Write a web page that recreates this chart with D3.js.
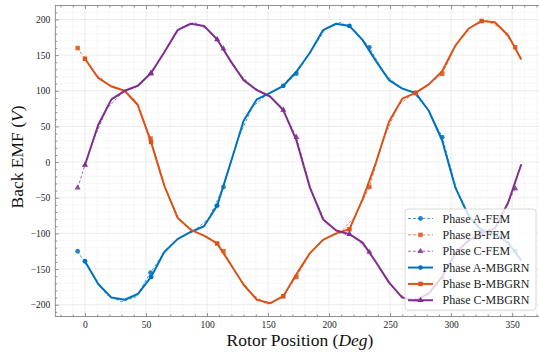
<!DOCTYPE html>
<html>
<head>
<meta charset="utf-8">
<script src="https://cdn.jsdelivr.net/npm/d3@7"></script>
<style>
  html, body { margin: 0; padding: 0; background: #fff; }
  svg { display: block; }
  text { font-family: "Liberation Serif", "DejaVu Serif", serif; }
</style>
</head>
<body>
<svg id="chart" width="539" height="353"></svg>
<script>
// Rotor positions (deg) of the two data sets
const mbgrnAngle = [0, 10.83, 21.67, 32.5, 43.33, 54.17, 65, 75.83, 86.67, 97.5, 108.33, 119.17,
  130, 140.83, 151.67, 162.5, 173.33, 184.17, 195, 205.83, 216.67, 227.5, 238.33, 249.17,
  260, 270.83, 281.67, 292.5, 303.33, 314.17, 325, 335.83, 346.67, 357.5];
const femAngle = [-6, 5.95, 17.9, 29.85, 41.8, 53.75, 65.7, 77.65, 89.6, 101.55, 113.5, 125.45,
  137.4, 149.35, 161.3, 173.25, 185.2, 197.15, 209.1, 221.05, 233, 244.95, 256.9, 268.85,
  280.8, 292.75, 304.7, 316.65, 328.6, 340.55, 352.5];

// Back EMF (V), MBGRN model
const phaseA_MBGRN = [-139, -171, -190, -193, -185, -161, -126, -108, -98, -90, -61, -2,
  58, 88, 97, 107, 127, 153, 185, 194, 191, 171, 142, 115, 103, 97, 72, 31, -35, -75,
  -96, -101, -113, -138];
const phaseB_MBGRN = [145, 118, 106, 100, 80, 28, -33, -78, -95, -103, -114, -143,
  -172, -193, -198, -188, -157, -128, -109, -100, -94, -52, -1, 57, 89, 97, 109, 127,
  163, 187, 198, 196, 178, 144];
const phaseC_MBGRN = [-4, 52, 88, 100, 107, 125, 154, 185, 194, 191, 172, 142,
  115, 101, 92, 73, 30, -35, -80, -96, -101, -113, -140, -169, -190, -194, -184, -161,
  -128, -110, -100, -93, -57, -3];

// Back EMF (V), FEM reference
const phaseA_FEM = [-125, -157, -186, -196, -189, -155, -124, -106, -96, -79, -35, 33,
  78, 95, 105, 124, 156, 187, 196, 185, 161, 125, 106, 98, 74, 35, -40, -80, -98, -106, -125];
const phaseB_FEM = [160, 129, 110, 102, 86, 33, -36, -82, -97, -106, -125, -160,
  -186, -199, -190, -161, -126, -107, -99, -77, -35, 34, 80, 96, 108, 124, 166, 190, 199, 188, 161];
const phaseC_FEM = [-36, 27, 75, 96, 106, 124, 156, 188, 196, 185, 159, 126,
  105, 95, 76, 35, -39, -85, -99, -105, -126, -158, -185, -196, -187, -162, -126, -108, -98, -77, -37];

const xTicks = [0, 50, 100, 150, 200, 250, 300, 350];
const yTicks = [-200, -150, -100, -50, 0, 50, 100, 150, 200];
const legendLabels = ["Phase A-FEM", "Phase B-FEM", "Phase C-FEM",
  "Phase A-MBGRN", "Phase B-MBGRN", "Phase C-MBGRN"];

const colors = { A: "#0072BD", B: "#D95319", C: "#7E2F8E" };

const svg = d3.select("#chart");
const plotL = 55.3, plotR = 546.7, plotT = 5.5, plotB = 316.5;
const x = d3.scaleLinear().domain([-24.3, 378.3]).range([plotL, plotR]);
const y = d3.scaleLinear().domain([-216.5, 219.6]).range([plotB, plotT]);

svg.append("defs").append("clipPath").attr("id", "plotClip")
  .append("rect").attr("x", plotL).attr("y", plotT)
  .attr("width", plotR - plotL).attr("height", plotB - plotT);

// grid: minor every 10, major at labelled ticks
const xMinor = d3.range(-20, 380, 10).filter(v => v % 50 !== 0);
const yMinor = d3.range(-210, 220, 10).filter(v => v % 50 !== 0);
const grid = svg.append("g");
grid.selectAll(".gxm").data(xMinor).join("line")
  .attr("x1", d => x(d)).attr("x2", d => x(d)).attr("y1", plotT).attr("y2", plotB)
  .attr("stroke", "#f1f1f1").attr("stroke-width", 0.6);
grid.selectAll(".gym").data(yMinor).join("line")
  .attr("y1", d => y(d)).attr("y2", d => y(d)).attr("x1", plotL).attr("x2", plotR)
  .attr("stroke", "#f1f1f1").attr("stroke-width", 0.6);
grid.selectAll(".gx").data(xTicks).join("line")
  .attr("x1", d => x(d)).attr("x2", d => x(d)).attr("y1", plotT).attr("y2", plotB)
  .attr("stroke", "#e4e4e4").attr("stroke-width", 0.7);
grid.selectAll(".gy").data(yTicks).join("line")
  .attr("y1", d => y(d)).attr("y2", d => y(d)).attr("x1", plotL).attr("x2", plotR)
  .attr("stroke", "#e4e4e4").attr("stroke-width", 0.7);

// axes with inward ticks on all four sides
const tickColor = "#666";
function styleAxis(g) {
  g.select(".domain").remove();
  g.selectAll(".tick line").attr("stroke", tickColor).attr("stroke-width", 0.7);
  g.selectAll(".tick text").attr("fill", "#222").style("font-size", "9.5px")
    .style("font-family", "'Liberation Serif', serif");
}
const fmt = d => (d < 0 ? "\u2212" + Math.abs(d) : String(d));

svg.append("g").attr("transform", `translate(0,${plotB})`)
  .call(d3.axisBottom(x).tickValues(xTicks).tickSize(-3.5).tickPadding(5).tickFormat(fmt)).call(styleAxis);
svg.append("g").attr("transform", `translate(0,${plotB})`)
  .call(d3.axisBottom(x).tickValues(xMinor).tickSize(-2).tickFormat("")).call(styleAxis);
svg.append("g").attr("transform", `translate(0,${plotT})`)
  .call(d3.axisTop(x).tickValues(xTicks).tickSize(-3.5).tickFormat("")).call(styleAxis);
svg.append("g").attr("transform", `translate(0,${plotT})`)
  .call(d3.axisTop(x).tickValues(xMinor).tickSize(-2).tickFormat("")).call(styleAxis);
svg.append("g").attr("transform", `translate(${plotL},0)`)
  .call(d3.axisLeft(y).tickValues(yTicks).tickSize(-3.5).tickPadding(5).tickFormat(fmt)).call(styleAxis);
svg.append("g").attr("transform", `translate(${plotL},0)`)
  .call(d3.axisLeft(y).tickValues(yMinor).tickSize(-2).tickFormat("")).call(styleAxis);
svg.append("g").attr("transform", `translate(${plotR},0)`)
  .call(d3.axisRight(y).tickValues(yTicks).tickSize(-3.5).tickFormat("")).call(styleAxis);

// frame
svg.append("rect").attr("x", plotL).attr("y", plotT)
  .attr("width", plotR - plotL).attr("height", plotB - plotT)
  .attr("fill", "none").attr("stroke", "#777").attr("stroke-width", 0.8);

// marker shapes
const markerPath = {
  circle: d3.symbol(d3.symbolCircle, 18)(),
  square: d3.symbol(d3.symbolSquare, 20)(),
  triangle: d3.symbol(d3.symbolTriangle, 16)()
};

const series = [
  { key: "A", kind: "FEM", xs: femAngle, ys: phaseA_FEM, marker: "circle" },
  { key: "B", kind: "FEM", xs: femAngle, ys: phaseB_FEM, marker: "square" },
  { key: "C", kind: "FEM", xs: femAngle, ys: phaseC_FEM, marker: "triangle" },
  { key: "A", kind: "MBGRN", xs: mbgrnAngle, ys: phaseA_MBGRN, marker: "circle" },
  { key: "B", kind: "MBGRN", xs: mbgrnAngle, ys: phaseB_MBGRN, marker: "square" },
  { key: "C", kind: "MBGRN", xs: mbgrnAngle, ys: phaseC_MBGRN, marker: "triangle" }
];
const markEvery = 5;

const line = d3.line().x(d => x(d[0])).y(d => y(d[1]));
const plot = svg.append("g").attr("clip-path", "url(#plotClip)");

function lineStyle(sel, s) {
  sel.attr("fill", "none").attr("stroke", colors[s.key])
    .attr("stroke-width", s.kind === "FEM" ? 1 : 2)
    .attr("stroke-dasharray", s.kind === "FEM" ? "3,1.8" : null)
    .attr("stroke-linejoin", "round")
    .attr("opacity", s.kind === "FEM" ? 0.72 : 1);
}

series.forEach(s => {
  const pts = s.xs.map((v, i) => [v, s.ys[i]]);
  const g = plot.append("g");
  g.append("path").datum(pts).attr("d", line).call(lineStyle, s);
  g.selectAll("path.mk").data(pts.filter((d, i) => i % markEvery === 0)).join("path")
    .attr("class", "mk")
    .attr("d", markerPath[s.marker])
    .attr("transform", d => `translate(${x(d[0])},${y(d[1])})`)
    .attr("fill", colors[s.key])
    .attr("opacity", s.kind === "FEM" ? 0.85 : 1);
});

// axis titles
const xl = svg.append("text").attr("x", (plotL + plotR) / 2 - 1).attr("y", 346)
  .attr("text-anchor", "middle").style("font-size", "17.5px").attr("fill", "#111");
xl.append("tspan").text("Rotor Position (");
xl.append("tspan").attr("font-style", "italic").text("Deg");
xl.append("tspan").text(")");

const yl = svg.append("text").attr("transform", "translate(22.5,157) rotate(-90)")
  .attr("text-anchor", "middle").style("font-size", "17.5px").attr("fill", "#111");
yl.append("tspan").text("Back EMF (");
yl.append("tspan").attr("font-style", "italic").text("V");
yl.append("tspan").text(")");

// legend
const lg = svg.append("g");
lg.append("rect").attr("x", 405).attr("y", 209).attr("width", 131).attr("height", 101)
  .attr("rx", 3).attr("fill", "#fff").attr("fill-opacity", 0.8)
  .attr("stroke", "#d0d0d0").attr("stroke-width", 0.8);
series.forEach((s, i) => {
  const cy = 218.5 + i * 16.35;
  const row = lg.append("g");
  row.append("line").attr("x1", 408).attr("x2", 433).attr("y1", cy).attr("y2", cy).call(lineStyle, s);
  row.append("path").attr("d", markerPath[s.marker])
    .attr("transform", `translate(420.5,${cy})`).attr("fill", colors[s.key])
    .attr("opacity", s.kind === "FEM" ? 0.85 : 1);
  row.append("text").attr("x", 442.5).attr("y", cy + 4.2)
    .style("font-size", "12px").attr("fill", "#222").text(legendLabels[i]);
});
</script>
</body>
</html>
